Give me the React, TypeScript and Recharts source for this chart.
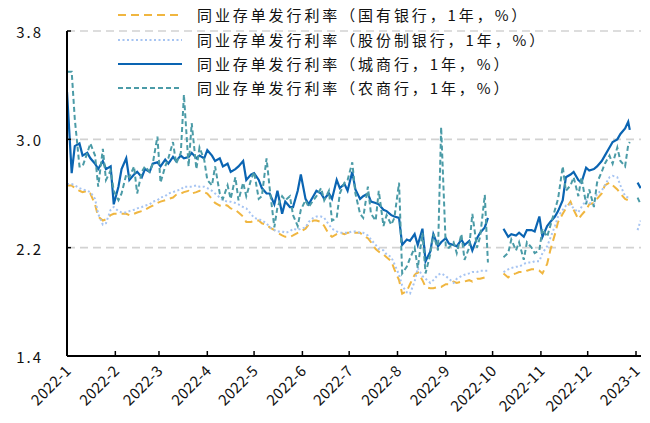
import React from 'react';
import { LineChart, Line, XAxis, YAxis, CartesianGrid } from 'recharts';

// day offsets from 2022-01-01
const days = [
  0, 3, 5, 8, 10, 13, 15, 18, 20, 23, 25, 28, 30, 33, 35, 38, 40, 43, 45, 48,
  50, 53, 55, 58, 60, 63, 65, 68, 70, 73, 75, 78, 80, 83, 85, 88, 90, 93, 95, 98,
  100, 103, 105, 108, 110, 113, 115, 118, 120, 123, 125, 128, 130, 133, 135, 138, 140, 143, 145, 148,
  150, 153, 155, 158, 160, 163, 165, 168, 170, 173, 175, 178, 180, 183, 185, 188, 190, 193, 195, 198,
  200, 203, 205, 208, 210, 213, 215, 218, 220, 223, 225, 228, 230, 233, 235, 238, 240, 243, 245, 248,
  250, 253, 255, 258, 260, 263, 265, 268, 270, 273, 275, 278, 280, 283, 285, 288, 290, 293, 295, 298,
  300, 303, 305, 308, 310, 313, 315, 318, 320, 323, 325, 328, 330, 333, 335, 338, 340, 343, 345, 348,
  350, 353, 355, 358, 360, 361, 363, 366, 368,
];

// 国有银行
const guoyou = [
  2.66, 2.66, 2.64, 2.62, 2.61, 2.62, 2.60, 2.52, 2.43, 2.40,
  2.41, 2.44, 2.45, 2.45, 2.45, 2.45, 2.44, 2.45, 2.46, 2.47,
  2.48, 2.50, 2.51, 2.53, 2.54, 2.55, 2.56, 2.57, 2.59, 2.60,
  2.61, 2.62, 2.60, 2.61, 2.62, 2.61, 2.60, 2.56, 2.53, 2.51,
  2.52, 2.51, 2.49, 2.48, 2.46, 2.43, 2.39, 2.39, 2.40, 2.40,
  2.38, 2.37, 2.35, 2.33, 2.31, 2.29, 2.28, 2.28, 2.29, 2.31,
  2.32, 2.34, 2.37, 2.40, 2.40, 2.39, 2.36, 2.30, 2.28, 2.30,
  2.31, 2.30, 2.31, 2.31, 2.31, 2.31, 2.29, 2.27, 2.24, 2.19,
  2.17, 2.15, 2.13, 2.10, 2.04, 1.96, 1.86, 1.88, 1.93, 2.00,
  2.02, 1.96, 1.91, 1.90, 1.90, 1.91, 1.91, 1.93, 1.93, 1.95,
  1.94, 1.95, 1.95, 1.96, 1.95, 1.97, 1.97, 1.98, 1.98, null,
  null, null, 2.01, 1.98, 2.00, 2.01, 2.02, 2.02, 2.03, 2.04,
  2.04, 2.03, 2.01, 2.08, 2.18, 2.30, 2.39, 2.45, 2.49, 2.54,
  2.48, 2.41, 2.44, 2.48, 2.52, 2.53, 2.56, 2.60, 2.66, 2.68,
  2.66, 2.63, 2.60, 2.56, 2.55, 2.55, null, null, null,
];

// 股份制银行
const gufen = [
  2.67, 2.67, 2.66, 2.64, 2.63, 2.62, 2.61, 2.56, 2.45, 2.37,
  2.38, 2.48, 2.50, 2.47, 2.46, 2.46, 2.47, 2.48, 2.49, 2.50,
  2.51, 2.52, 2.54, 2.55, 2.57, 2.58, 2.60, 2.61, 2.62, 2.63,
  2.65, 2.65, 2.65, 2.66, 2.65, 2.65, 2.64, 2.62, 2.60, 2.57,
  2.55, 2.54, 2.54, 2.53, 2.52, 2.50, 2.49, 2.45, 2.42, 2.41,
  2.40, 2.38, 2.35, 2.33, 2.32, 2.32, 2.31, 2.32, 2.34, 2.33,
  2.34, 2.35, 2.39, 2.42, 2.43, 2.43, 2.42, 2.37, 2.34, 2.32,
  2.31, 2.31, 2.31, 2.32, 2.32, 2.31, 2.31, 2.29, 2.26, 2.22,
  2.19, 2.18, 2.15, 2.13, 2.08, 2.00, 1.92, 1.87, 1.86, 1.95,
  2.05, 1.99, 1.97, 1.94, 1.96, 2.00, 2.01, 1.99, 1.97, 1.94,
  1.97, 1.99, 2.00, 2.01, 2.02, 2.02, 2.03, 2.03, 2.03, null,
  null, null, 2.02, 2.04, 2.05, 2.06, 2.06, 2.08, 2.09, 2.09,
  2.10, 2.10, 2.16, 2.21, 2.27, 2.36, 2.43, 2.48, 2.51, 2.52,
  2.49, 2.46, 2.50, 2.55, 2.53, 2.52, 2.60, 2.62, 2.66, 2.72,
  2.73, 2.72, 2.66, 2.58, 2.57, 2.57, null, 2.33, 2.40,
];

// 城商行
const chengshang = [
  3.35, 2.75, 2.95, 2.97, 2.88, 2.90, 2.86, 2.82, 2.78, 2.84,
  2.78, 2.80, 2.52, 2.65, 2.78, 2.86, 2.70, 2.74, 2.76, 2.72,
  2.78, 2.76, 2.82, 2.83, 2.80, 2.85, 2.82, 2.87, 2.84, 2.88,
  2.86, 2.87, 2.90, 2.86, 2.88, 2.86, 2.92, 2.88, 2.84, 2.86,
  2.80, 2.82, 2.76, 2.78, 2.80, 2.84, 2.70, 2.74, 2.75, 2.70,
  2.64, 2.60, 2.60, 2.52, 2.62, 2.45, 2.54, 2.50, 2.50, 2.62,
  2.74, 2.56, 2.52, 2.58, 2.62, 2.60, 2.56, 2.60, 2.56, 2.70,
  2.64, 2.67, 2.62, 2.76, 2.63, 2.56, 2.58, 2.60, 2.54, 2.53,
  2.52, 2.48, 2.47, 2.44, 2.43, 2.42, 2.22, 2.26, 2.25, 2.30,
  2.22, 2.34, 2.10, 2.17, 2.30, 2.21, 2.24, 2.27, 2.23, 2.22,
  2.21, 2.26, 2.22, 2.25, 2.18, 2.27, 2.31, 2.35, 2.42, null,
  null, null, 2.34, 2.28, 2.30, 2.29, 2.31, 2.28, 2.33, 2.33,
  2.32, 2.43, 2.28, 2.36, 2.39, 2.43, 2.47, 2.55, 2.72, 2.74,
  2.76, 2.70, 2.68, 2.79, 2.77, 2.78, 2.80, 2.84, 2.88, 2.94,
  2.98, 3.00, 3.04, 3.08, 3.13, 3.07, null, 2.68, 2.64,
];

// 农商行
const nongshang = [
  3.50, 3.50, 3.15, 2.80, 2.80, 2.90, 2.97, 2.88, 2.65, 2.93,
  2.70, 2.77, 2.62, 2.55, 2.60, 2.74, 2.72, 2.80, 2.60, 2.76,
  2.80, 2.76, 2.82, 3.02, 2.68, 2.80, 2.86, 2.98, 2.82, 2.90,
  3.33, 2.80, 3.12, 2.78, 2.94, 2.85, 2.70, 2.66, 2.80, 2.60,
  2.56, 2.66, 2.56, 2.72, 2.55, 2.68, 2.58, 2.70, 2.76, 2.56,
  2.58, 2.86, 2.64, 2.35, 2.50, 2.58, 2.55, 2.58, 2.44, 2.36,
  2.48, 2.55, 2.50, 2.55, 2.58, 2.64, 2.55, 2.62, 2.40, 2.42,
  2.60, 2.68, 2.70, 2.83, 2.60, 2.45, 2.42, 2.65, 2.45, 2.40,
  2.62, 2.36, 2.44, 2.37, 2.42, 2.68, 2.01, 2.06, 2.12, 2.20,
  2.05, 2.31, 2.01, 2.15, 2.30, 2.18, 3.09, 2.20, 2.20, 2.24,
  2.16, 2.30, 2.11, 2.20, 2.45, 2.20, 2.28, 2.59, 2.09, null,
  null, null, 2.13, 2.16, 2.26, 2.18, 2.24, 2.11, 2.24, 2.20,
  2.16, 2.18, 2.34, 2.28, 2.36, 2.48, 2.56, 2.80, 2.62, 2.66,
  2.72, 2.58, 2.72, 2.52, 2.63, 2.50, 2.68, 2.76, 2.82, 2.88,
  2.82, 2.94, 2.84, 2.80, 2.96, 2.98, null, 2.57, 2.52,
];

const monthTicks = [0, 31, 59, 90, 120, 151, 181, 212, 243, 273, 304, 334, 365];
const monthLabels = [
  '2022-1', '2022-2', '2022-3', '2022-4', '2022-5', '2022-6', '2022-7',
  '2022-8', '2022-9', '2022-10', '2022-11', '2022-12', '2023-1',
];
const yTicks = [1.4, 2.2, 3.0, 3.8];

const seriesNames = [
  '同业存单发行利率（国有银行，1年，%）',
  '同业存单发行利率（股份制银行，1年，%）',
  '同业存单发行利率（城商行，1年，%）',
  '同业存单发行利率（农商行，1年，%）',
];

const data = days.map((d, i) => ({
  d,
  a: guoyou[i],
  b: gufen[i],
  c: chengshang[i],
  e: nongshang[i],
}));

const FONT = '"Noto Sans CJK SC", "Noto Sans", sans-serif';

const styles = [
  { key: 'a', color: '#F0B640', dash: '8 5', width: 2 },
  { key: 'b', color: '#A6C4F2', dash: '2 2.5', width: 2 },
  { key: 'c', color: '#0A64B2', dash: undefined, width: 2.2 },
  { key: 'e', color: '#4B9BA7', dash: '5 3', width: 2 },
];

const XTick = (props: any) => {
  const { x, y, payload } = props;
  const i = monthTicks.indexOf(payload.value);
  return (
    <g>
      <line x1={x} x2={x} y1={y} y2={y - 5} stroke="#000" strokeWidth={1.5} />
      <text
        x={x + 5}
        y={y + 16}
        textAnchor="end"
        transform={`rotate(-45, ${x + 5}, ${y + 16})`}
        fontFamily={FONT}
        fontSize={15}
        letterSpacing={0.3}
        fill="#111"
      >
        {monthLabels[i]}
      </text>
    </g>
  );
};

const YTick = (props: any) => {
  const { x, y, payload } = props;
  return (
    <g>
      <line x1={x + 24} x2={x + 28} y1={y} y2={y} stroke="#000" strokeWidth={1.5} />
      <text
        x={x}
        y={y + 7}
        textAnchor="end"
        fontFamily={FONT}
        fontSize={15}
        letterSpacing={2}
        fill="#111"
      >
        {Number(payload.value).toFixed(1)}
      </text>
    </g>
  );
};

const legendRows = [15, 40, 64, 88];

export default function App() {
  return (
    <div style={{ position: 'absolute', left: 0, top: 0, width: 650, height: 423, background: '#fff' }}>
      <LineChart
        width={650}
        height={423}
        data={data}
        margin={{ top: 31, right: 9, left: 0, bottom: 0 }}
      >
        <CartesianGrid
          vertical={false}
          stroke="#d2d2d2"
          strokeWidth={1.6}
          strokeDasharray="8 5"
        />
        <XAxis
          dataKey="d"
          type="number"
          domain={[0, 368.2]}
          ticks={monthTicks}
          interval={0}
          allowDataOverflow
          height={67}
          axisLine={{ stroke: '#000', strokeWidth: 2 }}
          tickLine={false}
          tickSize={0}
          tickMargin={0}
          tick={<XTick />}
        />
        <YAxis
          type="number"
          domain={[1.4, 3.8]}
          ticks={yTicks}
          interval={0}
          width={67}
          axisLine={{ stroke: '#000', strokeWidth: 2 }}
          tickLine={false}
          tickSize={0}
          tickMargin={24}
          tick={<YTick />}
        />
        {styles.map((s) => (
          <Line
            key={s.key}
            type="linear"
            dataKey={s.key}
            stroke={s.color}
            strokeWidth={s.width}
            strokeDasharray={s.dash}
            dot={false}
            activeDot={false}
            connectNulls={false}
            isAnimationActive={false}
          />
        ))}
      </LineChart>
      <svg
        width={650}
        height={110}
        style={{ position: 'absolute', left: 0, top: 0, pointerEvents: 'none' }}
      >
        {seriesNames.map((name, i) => (
          <g key={name}>
            <line
              x1={118}
              x2={182}
              y1={legendRows[i]}
              y2={legendRows[i]}
              stroke={styles[i].color}
              strokeWidth={styles[i].width}
              strokeDasharray={styles[i].dash}
            />
            <text
              x={197}
              y={legendRows[i] + 5.5}
              fontFamily={FONT}
              fontSize={15}
              letterSpacing={2.9}
              fill="#111"
            >
              {name}
            </text>
          </g>
        ))}
      </svg>
    </div>
  );
}
